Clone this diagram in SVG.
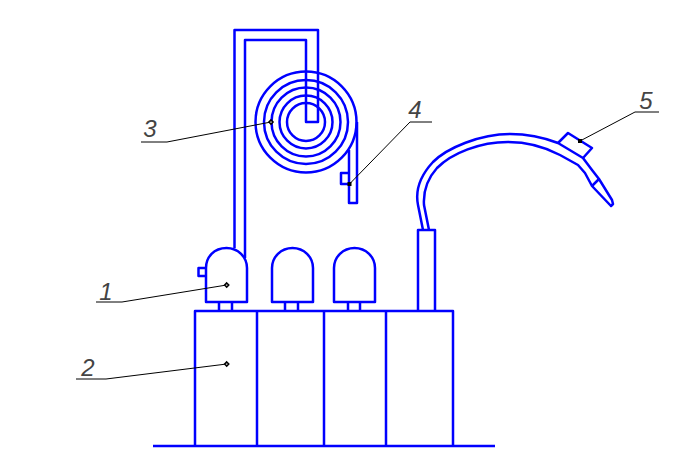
<svg xmlns="http://www.w3.org/2000/svg" width="678" height="468" viewBox="0 0 678 468">
<style>
.b{fill:none;stroke:#0000ff;stroke-width:2.5;stroke-linejoin:round}
.l{fill:none;stroke:#000;stroke-width:1}
.d{fill:#fff;stroke:#000;stroke-width:1.6}
.s{fill:#000}
text{font-family:"Liberation Sans Narrow","Liberation Sans",Arial,sans-serif;font-style:italic;font-size:24px;fill:#444;text-anchor:middle}
</style>
<rect width="678" height="468" fill="#fff"/>
<g id="base">
<path class="b" d="M195 446V311H453V446M257 311V446M324 311V446M386 311V446M153 446H495"/>
<path class="b" d="M418 311V230H435V311"/>
</g>
<g id="bottle-1">
<path class="b" d="M206 302V268C206 257 214 248 226.500 248C238 248 247 257 247 268V302ZM219 302V311M232 302V311M206 268H198.500V276H206"/>
</g>
<g id="bottle-2">
<path class="b" d="M272 302V268C272 257 281 248 292.500 248C304 248 313 257 313 268V302ZM285 302V311M298 302V311"/>
</g>
<g id="bottle-3">
<path class="b" d="M334 302V268C334 257 343 248 354.500 248C366 248 375 257 375 268V302ZM348 302V311M360 302V311"/>
</g>
<g id="coil">
<path class="b" d="M234.500 248V30H318V122H306V40H245V258"/>
<circle class="b" cx="306" cy="122" r="50.500"/>
<circle class="b" cx="306" cy="122" r="42"/>
<circle class="b" cx="306" cy="122" r="34.500"/>
<circle class="b" cx="306" cy="122" r="26.500"/>
<circle class="b" cx="306" cy="122" r="19"/>
<path class="b" d="M357 122V203H349V150M349 173H341V184H349"/>
</g>
<g id="torch">
<path class="b" d="M423 230L418 205C415 190 420 176 433 162C447 148 480 134 510 134C530 134 545 138 558 143L583 158L592 170L599 179L612 200L613 204L611 206L592 186L585 173L578 165L560 155C545 147 530 142 508 142C480 142 452 153 437 168C428 178 423 190 424 205L429 230"/>
<path class="b" d="M558 143L568 133L592 148L583 158M592 186L599 179"/>
</g>
<g id="connectors">
<path class="l" d="M226.700 285L122 302H96"/>
<path class="l" d="M226.700 364L106 379H76"/>
<path class="l" d="M271 122L167 142H141"/>
<path class="l" d="M349.500 184L410 122H432"/>
<path class="l" d="M580 141L635 112H659"/>
<path class="d" d="M226.700 283L228.700 285L226.700 287L224.700 285Z"/>
<path class="d" d="M226.700 362L228.700 364L226.700 366L224.700 364Z"/>
<path class="d" d="M271 120L273 122L271 124L269 122Z"/>
<rect class="s" x="347.500" y="182" width="4" height="4"/>
<rect class="s" x="578" y="139" width="4" height="4"/>
</g>
<g id="labels">
<text x="106" y="300">1</text>
<text x="88" y="376">2</text>
<text x="150" y="137">3</text>
<text x="415" y="118">4</text>
<text x="646" y="109">5</text>
</g>
</svg>
